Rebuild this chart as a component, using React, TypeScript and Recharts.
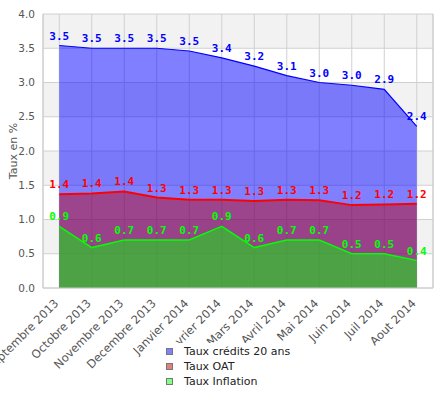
import { Area, AreaChart, CartesianGrid, Legend, ReferenceLine, XAxis, YAxis } from 'recharts'

const months = [
  'Septembre 2013',
  'Octobre 2013',
  'Novembre 2013',
  'Decembre 2013',
  'Janvier 2014',
  'Fevrier 2014',
  'Mars 2014',
  'Avril 2014',
  'Mai 2014',
  'Juin 2014',
  'Juil 2014',
  'Aout 2014',
]
const credit20 = [3.54, 3.5, 3.5, 3.5, 3.46, 3.36, 3.24, 3.1, 3.0, 2.96, 2.9, 2.36]
const oat = [1.37, 1.38, 1.41, 1.32, 1.29, 1.29, 1.27, 1.29, 1.28, 1.21, 1.22, 1.23]
const inflation = [0.9, 0.59, 0.7, 0.7, 0.7, 0.9, 0.59, 0.7, 0.7, 0.5, 0.5, 0.4]
const yTicks = [0, 0.5, 1, 1.5, 2, 2.5, 3, 3.5, 4]

const legendItems = [
  { name: 'Taux crédits 20 ans', color: '#8080ff' },
  { name: 'Taux OAT', color: '#e08080' },
  { name: 'Taux Inflation', color: '#80ff80' },
]

const data = months.map((m, i) => ({ i, month: m, credit: credit20[i], oat: oat[i], inflation: inflation[i] }))

const sans = '"DejaVu Sans", sans-serif'
const mono = '"DejaVu Sans Mono", monospace'

function valueLabel(color: string) {
  return (props: any) => {
    const { x, y, value, index } = props
    if (value == null) return null
    return (
      <text key={index} x={x} y={y - 6} textAnchor="middle" fill={color} fontFamily={mono} fontWeight="bold" fontSize={11}>
        {Number(value).toFixed(1)}
      </text>
    )
  }
}

function MonthTick(props: any) {
  const { x, y, payload } = props
  const tx = x
  const ty = y + 8
  return (
    <text x={tx} y={ty} textAnchor="end" fill="#555" fontFamily={sans} fontSize={11.5} transform={`rotate(-45 ${tx} ${ty})`}>
      {months[payload.value]}
    </text>
  )
}

// the legend box is opaque, like the original, so it hides the start of "Fevrier 2014"
function LegendBox() {
  return (
    <div style={{ fontFamily: sans, fontSize: 11, color: '#222', background: '#fff', padding: '1px 4px 4px 6px' }}>
      {legendItems.map((it) => (
        <div key={it.name} style={{ display: 'flex', alignItems: 'center', height: 15 }}>
          <span style={{ width: 5, height: 5, background: it.color, border: '1px solid #777', marginRight: 11 }} />
          {it.name}
        </div>
      ))}
    </div>
  )
}

export default function App() {
  return (
    <div style={{ position: 'absolute', left: 0, top: 0, background: '#fff' }}>
      <AreaChart width={444} height={396} data={data} margin={{ top: 14, right: 11, left: 0, bottom: 0 }}>
        <CartesianGrid stroke="#d0d0d0" horizontalFill={['#f2f2f2', '#ffffff']} />
        <XAxis
          dataKey="i"
          type="number"
          domain={[-0.5, 11.5]}
          ticks={months.map((_, i) => i)}
          interval={0}
          tickLine={false}
          axisLine={{ stroke: '#ccc' }}
          height={108}
          tick={<MonthTick />}
        />
        <YAxis
          width={43}
          domain={[0, 4]}
          ticks={yTicks}
          tickLine={false}
          axisLine={{ stroke: '#ccc' }}
          tick={{ fill: '#555', fontFamily: sans, fontSize: 10.5 }}
          tickFormatter={(v) => Number(v).toFixed(1)}
          label={({ viewBox }: any) => {
            const cx = 13
            const cy = viewBox.y + viewBox.height / 2
            return (
              <text x={cx} y={cy} textAnchor="middle" dominantBaseline="central" fill="#555" fontFamily={sans} fontSize={11} transform={`rotate(-90 ${cx} ${cy})`}>
                Taux en %
              </text>
            )
          }}
        />
        <ReferenceLine x={11.5} stroke="#ccc" />
        <Area
          type="linear"
          dataKey="credit"
          stroke="#0000ff"
          strokeWidth={1.2}
          fill="#0000ff"
          fillOpacity={0.5}
          isAnimationActive={false}
          label={valueLabel('#0000ff')}
        />
        <Area
          type="linear"
          dataKey="oat"
          stroke="#ff0000"
          strokeWidth={2}
          fill="#c00000"
          fillOpacity={0.45}
          isAnimationActive={false}
          label={valueLabel('#ff0000')}
        />
        <Area
          type="linear"
          dataKey="inflation"
          stroke="#00ff00"
          strokeWidth={1.5}
          fill="#00ff00"
          fillOpacity={0.5}
          isAnimationActive={false}
          label={valueLabel('#00ff00')}
        />
        <Legend
          verticalAlign="middle"
          align="center"
          wrapperStyle={{ left: 160, top: 343, width: 'auto', height: 'auto' }}
          content={<LegendBox />}
        />
      </AreaChart>
    </div>
  )
}
